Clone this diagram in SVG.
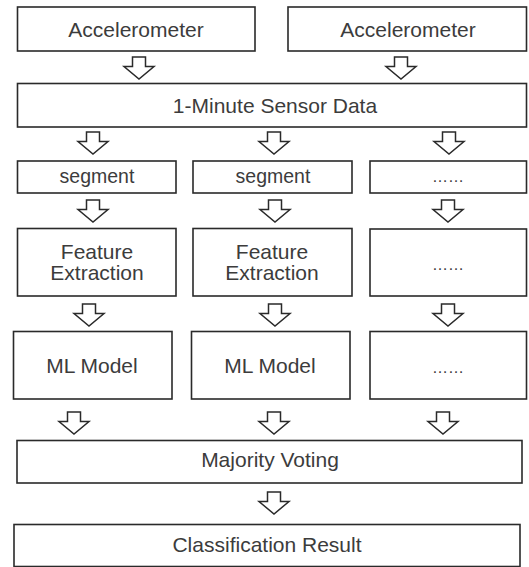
<svg xmlns="http://www.w3.org/2000/svg" width="529" height="567" viewBox="0 0 529 567">
<style>
.box{fill:#fff;stroke:#2a2a2a;stroke-width:1.6}
.t{font-family:"Liberation Sans",Arial,sans-serif;font-size:21px;fill:#3c3c3c;text-anchor:middle}
.s{font-size:19.5px}
.d{font-size:16px}
.arr{fill:#fff;stroke:#2a2a2a;stroke-width:1.5;stroke-linejoin:miter}
</style>
<defs>
<path id="a" d="M-6.5,0 h13 v9.5 h8.5 l-15,12.5 l-15,-12.5 h8.5 z"/>
</defs>
<rect width="529" height="567" fill="#fff"/>
<g id="acc1"><rect class="box" x="17.5" y="7" width="237.5" height="44"/><text class="t" x="136" y="37">Accelerometer</text></g>
<g id="acc2"><rect class="box" x="288" y="7" width="238.5" height="44"/><text class="t" x="408" y="37">Accelerometer</text></g>
<g id="sensor"><rect class="box" x="17.5" y="83.5" width="509" height="43.5"/><text class="t" x="275" y="113">1-Minute Sensor Data</text></g>
<g id="seg1"><rect class="box" x="17.5" y="161" width="158.5" height="32"/><text class="t s" x="97" y="183">segment</text></g>
<g id="seg2"><rect class="box" x="193" y="161" width="159" height="32"/><text class="t s" x="273" y="183">segment</text></g>
<g id="seg3"><rect class="box" x="370" y="161" width="156.5" height="32"/><text class="t d" x="448" y="182">……</text></g>
<g id="fe1"><rect class="box" x="17.5" y="228.5" width="158.5" height="67.5"/><text class="t" x="97" y="259">Feature</text><text class="t" x="97" y="280">Extraction</text></g>
<g id="fe2"><rect class="box" x="193" y="228.5" width="159" height="67.5"/><text class="t" x="272" y="259">Feature</text><text class="t" x="272" y="280">Extraction</text></g>
<g id="fe3"><rect class="box" x="370" y="229" width="156.5" height="67"/><text class="t d" x="448" y="270">……</text></g>
<g id="ml1"><rect class="box" x="13.5" y="331.5" width="158.5" height="67.5"/><text class="t" x="92" y="373">ML Model</text></g>
<g id="ml2"><rect class="box" x="191.5" y="331.5" width="158.5" height="67.5"/><text class="t" x="270" y="373">ML Model</text></g>
<g id="ml3"><rect class="box" x="370" y="331.5" width="156.5" height="67.5"/><text class="t d" x="448" y="373">……</text></g>
<g id="vote"><rect class="box" x="17" y="440.5" width="505" height="42.5"/><text class="t" x="270" y="467">Majority Voting</text></g>
<g id="result"><rect class="box" x="14" y="524.5" width="506" height="42"/><text class="t" x="267" y="552">Classification Result</text></g>
<g id="connectors">
<use href="#a" class="arr" x="139" y="57"/>
<use href="#a" class="arr" x="401" y="57"/>
<use href="#a" class="arr" x="93" y="132"/>
<use href="#a" class="arr" x="274" y="132"/>
<use href="#a" class="arr" x="449" y="132"/>
<use href="#a" class="arr" x="93" y="200"/>
<use href="#a" class="arr" x="275" y="200"/>
<use href="#a" class="arr" x="448" y="200"/>
<use href="#a" class="arr" x="89" y="304"/>
<use href="#a" class="arr" x="275" y="304"/>
<use href="#a" class="arr" x="448" y="304"/>
<use href="#a" class="arr" x="74" y="412"/>
<use href="#a" class="arr" x="274" y="412"/>
<use href="#a" class="arr" x="443" y="412"/>
<use href="#a" class="arr" x="274" y="492"/>
</g>
</svg>
